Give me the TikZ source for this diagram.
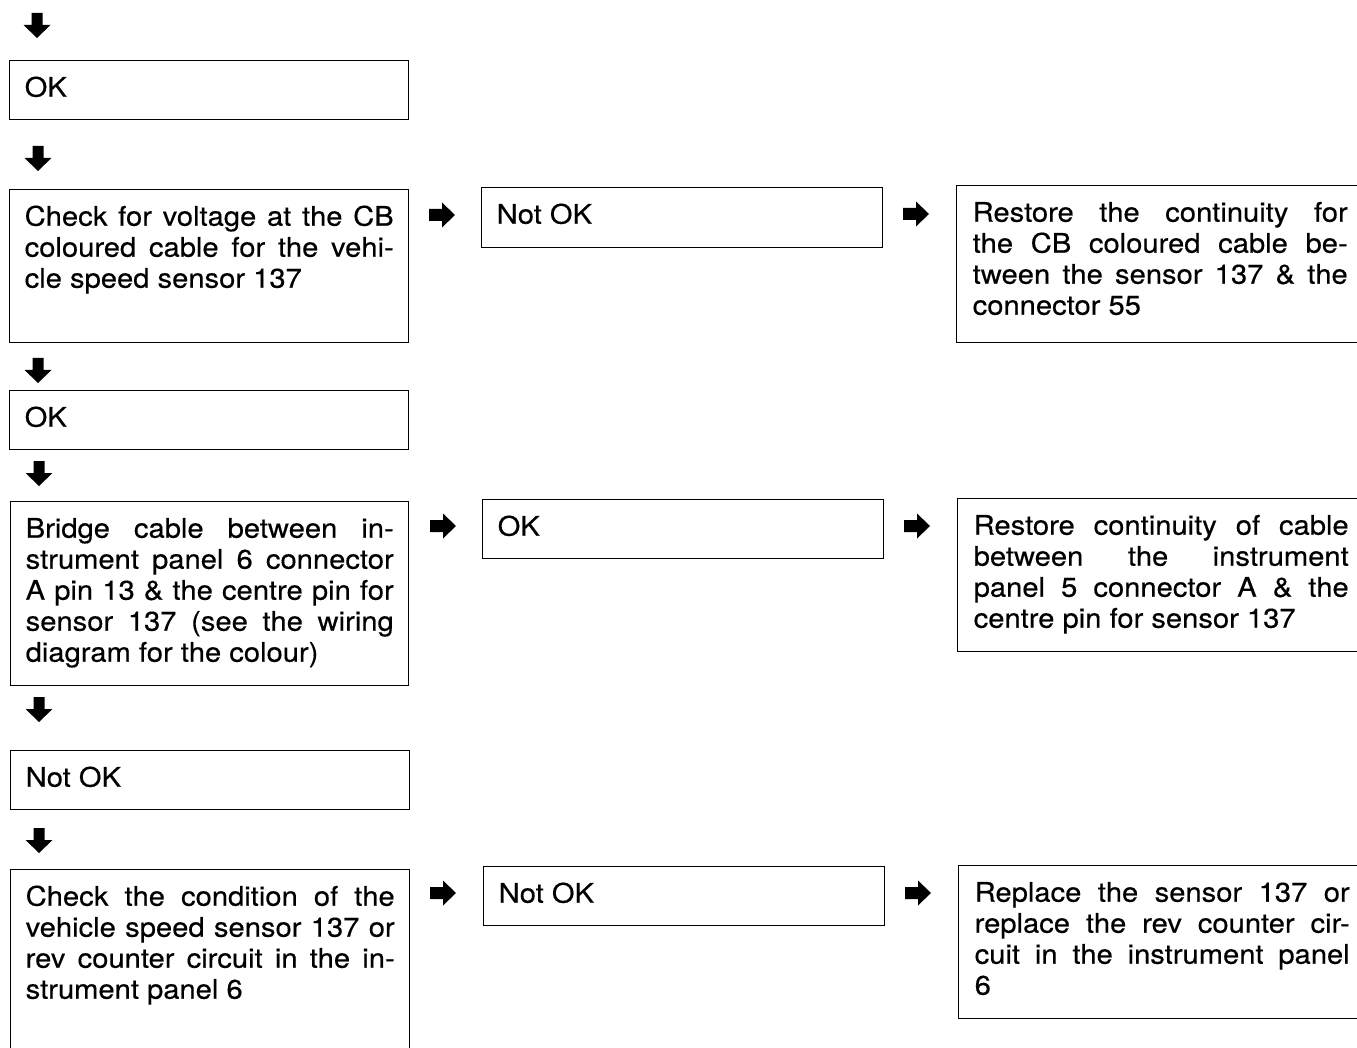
\documentclass[tikz,border=0pt]{standalone}
\usepackage{fontspec}
\setmainfont{TeX Gyre Heros}[FakeStretch=1.08, FakeBold=0.4]
\tikzset{
  box/.style={draw, line width=1.4pt, inner sep=0pt, anchor=north west, font=\fontsize{27}{31}\selectfont},
  darrow/.pic={\fill (-5.5,0) -- (5.5,0) -- (5.5,12) -- (13.5,12) -- (0,25) -- (-13.5,12) -- (-5.5,12) -- cycle;},
  rarrow/.pic={\fill (0,-6) -- (13,-6) -- (13,-12.5) -- (26,0) -- (13,12.5) -- (13,6) -- (0,6) -- cycle;}
}
% #1 left inset, #2 text width, #3 box height, #4 right pad, #5 text
\newcommand\bxtext[5]{\hspace*{#1pt}\begin{minipage}[t][#3pt][t]{#2pt}\tolerance=10000\hbadness=10000\rule{0pt}{36pt}#5\end{minipage}\hspace*{#4pt}}
\begin{document}
\begin{tikzpicture}[x=1pt,y=-1pt]
\useasboundingbox (0,0) rectangle (1357,1048);
\fill[white] (0,0) rectangle (1357,1048);
\clip (0,0) rectangle (1357,1048);

% left column
\pic (a1) at (37,13) {darrow};
\node[box] (ok1) at (9,60) {\bxtext{15}{369}{59}{15}{OK}};
\pic (a2) at (38,146) {darrow};
\node[box] (chk1) at (9,189) {\bxtext{15}{369}{153}{15}{Check for voltage at the CB\linebreak coloured cable for the vehi-\linebreak cle speed sensor 137}};
\pic (a3) at (38,358) {darrow};
\node[box] (ok2) at (9,390) {\bxtext{15}{369}{59}{15}{OK}};
\pic (a4) at (39,461) {darrow};
\node[box] (brg) at (10,501) {\bxtext{15}{368}{184}{15}{Bridge cable between in-\linebreak strument panel 6 connector\linebreak A pin 13 \& the centre pin for\linebreak sensor 137 (see the wiring\linebreak diagram for the colour)}};
\pic (a5) at (39,697) {darrow};
\node[box] (nok2) at (10,750) {\bxtext{15}{369}{59}{15}{Not OK}};
\pic (a6) at (39,828) {darrow};
\node[box] (chk2) at (10,869) {\bxtext{15}{369}{220}{15}{Check the condition of the\linebreak vehicle speed sensor 137 or\linebreak rev counter circuit in the in-\linebreak strument panel 6}};

% middle column
\pic (r1) at (429,215) {rarrow};
\node[box] (nok1) at (481,187) {\bxtext{15}{371}{60}{15}{Not OK}};
\pic (r2) at (430,526) {rarrow};
\node[box] (ok3) at (482,499) {\bxtext{15}{371}{59}{15}{OK}};
\pic (r3) at (430,893) {rarrow};
\node[box] (nok3) at (483,866) {\bxtext{15}{371}{59}{15}{Not OK}};

% right column
\pic (s1) at (903,214) {rarrow};
\node[box] (rst1) at (956,185) {\bxtext{16}{375}{157}{60}{Restore the continuity for\linebreak the CB coloured cable be-\linebreak tween the sensor 137 \& the\linebreak connector 55}};
\pic (s2) at (904,526) {rarrow};
\node[box] (rst2) at (957,498) {\bxtext{16}{375}{153}{60}{Restore continuity of cable\linebreak between the instrument\linebreak panel 5 connector A \& the\linebreak centre pin for sensor 137}};
\pic (s3) at (905,893) {rarrow};
\node[box] (rpl) at (958,865) {\bxtext{16}{375}{153}{60}{Replace the sensor 137 or\linebreak replace the rev counter cir-\linebreak cuit in the instrument panel\linebreak 6}};
\end{tikzpicture}
\end{document}
